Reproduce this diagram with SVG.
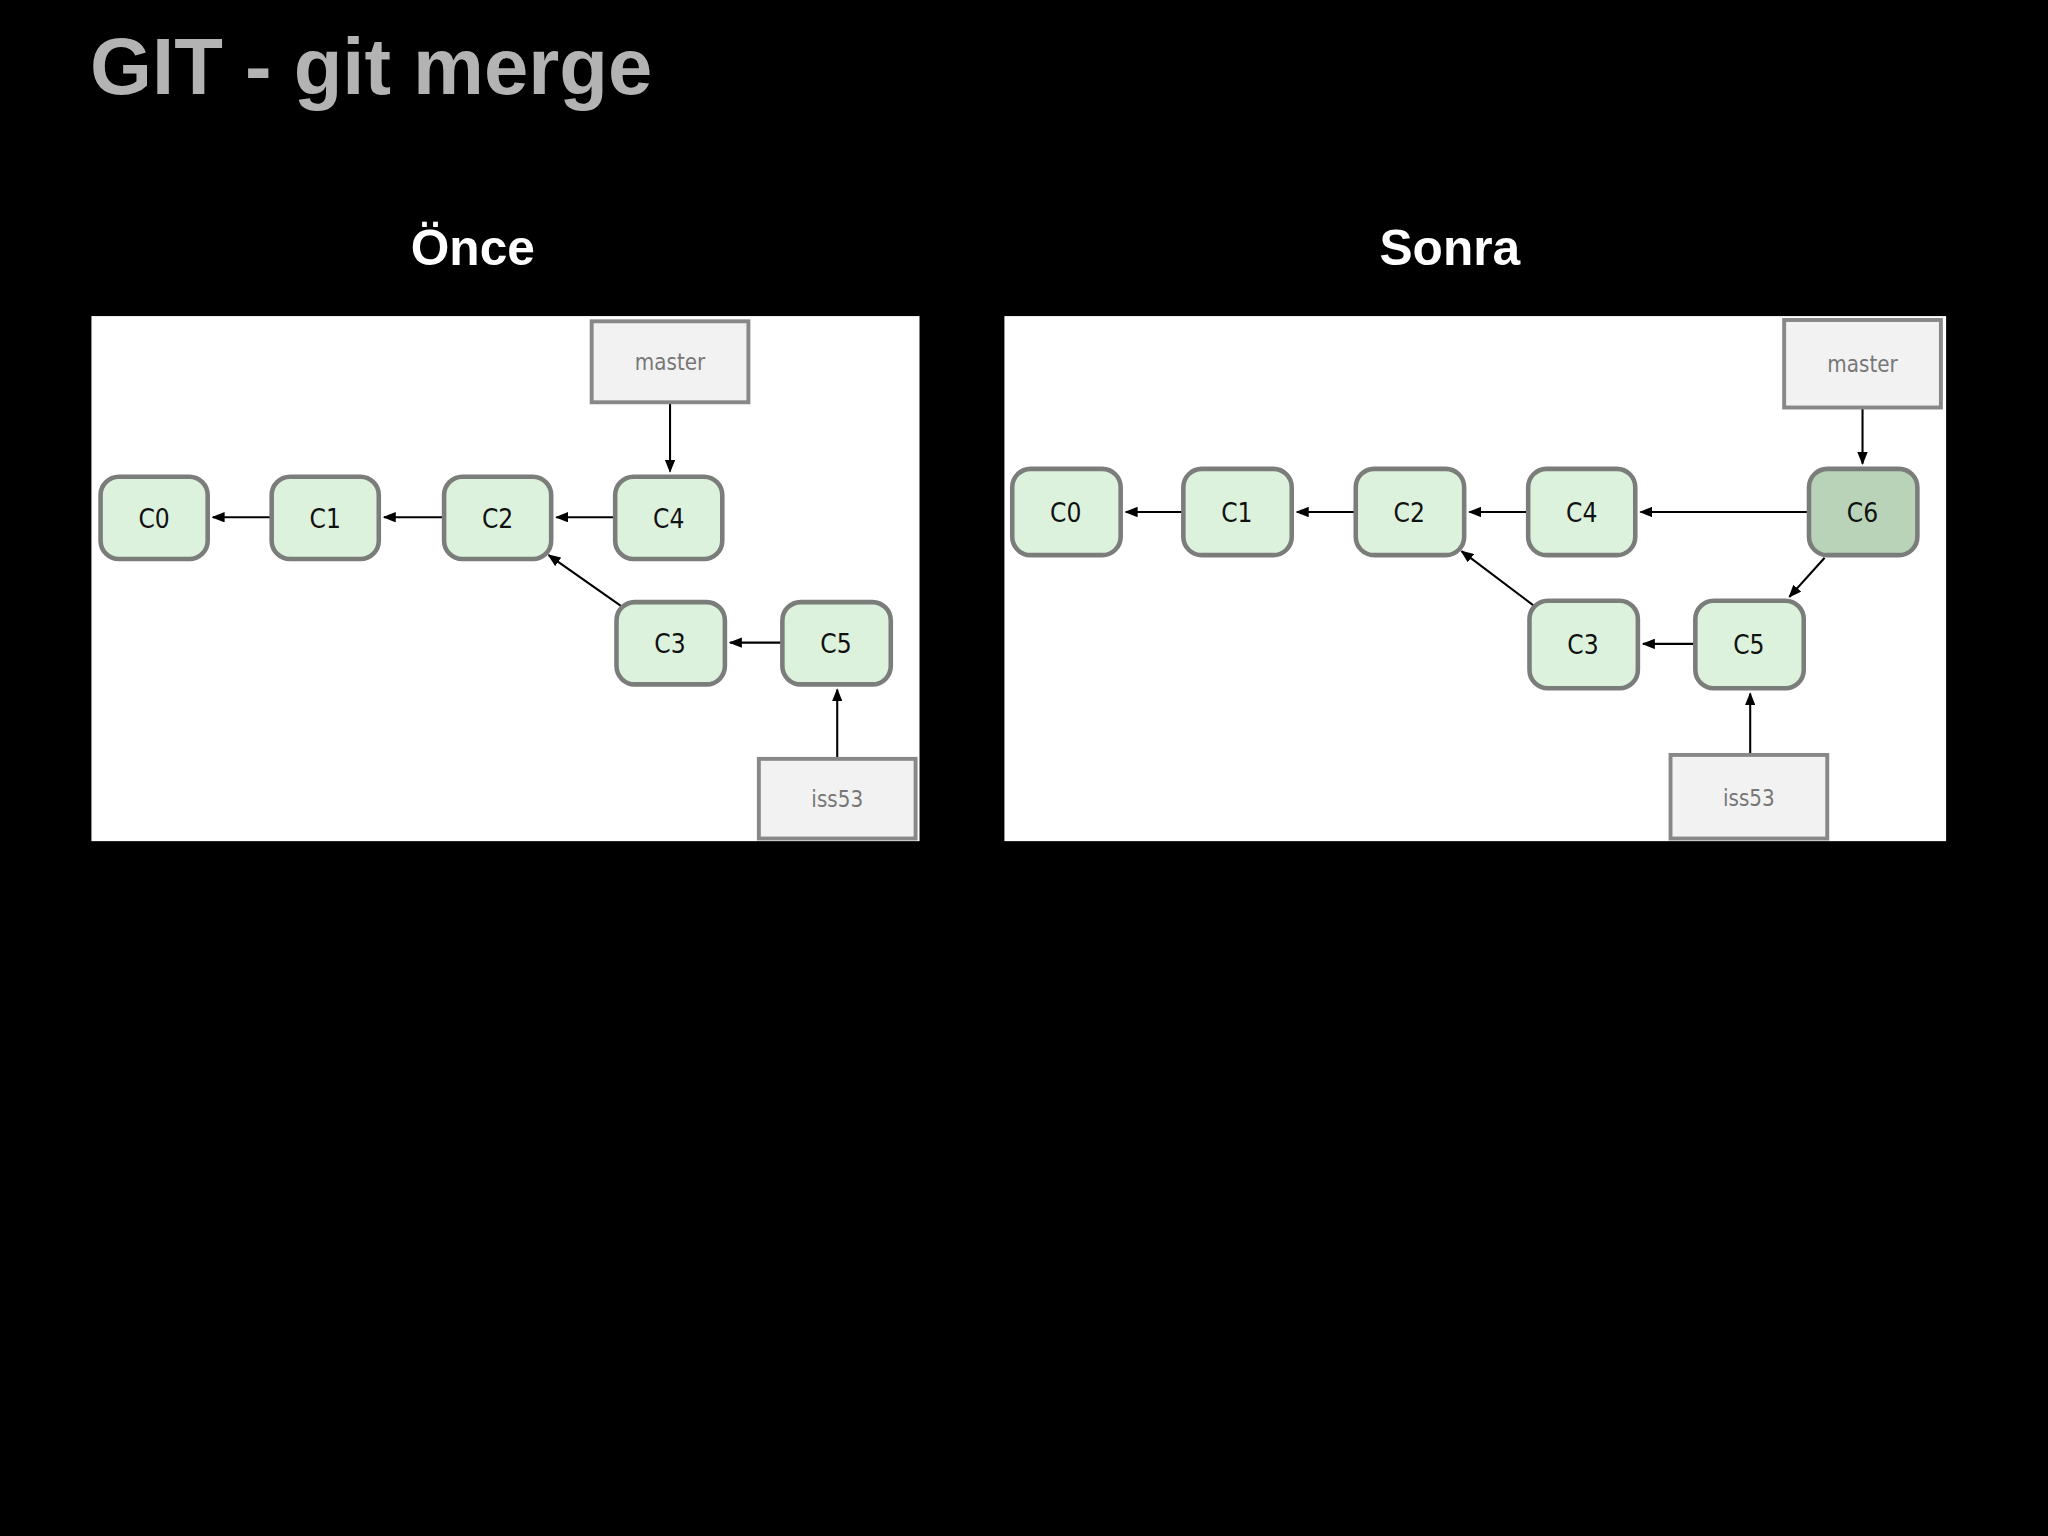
<svg xmlns="http://www.w3.org/2000/svg" width="2048" height="1536" viewBox="0 0 2048 1536">
<style>
.n rect{fill:#ddf2dd;stroke:#7a7d7a;stroke-width:3.5}
.n.d rect{fill:#b9d3b9}
.n text,.b text{font-family:"DejaVu Sans Condensed","DejaVu Sans",sans-serif;text-anchor:middle;font-size:20px}
.n text{fill:#111}
.b rect{fill:#f2f2f2;stroke:#888;stroke-width:3}
.b text{fill:#777;font-size:17px}
.c line{stroke:#000;stroke-width:1.6;marker-end:url(#a)}
.h{font-family:"Liberation Sans",Arial,sans-serif;font-weight:bold;fill:#fff;font-size:38px;text-anchor:middle}
</style>
<defs><marker id="a" markerWidth="10" markerHeight="8" refX="9" refY="4" orient="auto" markerUnits="userSpaceOnUse"><path d="M0,0L10,4L0,8z" fill="#000"/></marker></defs>
<rect width="2048" height="1536" fill="#000"/>
<g transform="scale(1.30612)">
<text x="69" y="72" style="font-family:'Liberation Sans',Arial,sans-serif;font-weight:bold;font-size:61px;fill:#b3b3b3">GIT - git merge</text>
<text class="h" x="362" y="203">Önce</text>
<text class="h" x="1110" y="203">Sonra</text>
<rect x="70" y="242" width="634" height="402" fill="#fff"/>
<rect x="769" y="242" width="721" height="402" fill="#fff"/>
<g class="c">
<line x1="207" y1="396" x2="163" y2="396"/>
<line x1="340" y1="396" x2="294" y2="396"/>
<line x1="471" y1="396" x2="426" y2="396"/>
<line x1="477" y1="465" x2="420" y2="425"/>
<line x1="599" y1="492" x2="559" y2="492"/>
<line x1="513" y1="308" x2="513" y2="361"/>
<line x1="641" y1="580" x2="641" y2="528"/>
<line x1="906" y1="392" x2="862" y2="392"/>
<line x1="1038" y1="392" x2="993" y2="392"/>
<line x1="1170" y1="392" x2="1125" y2="392"/>
<line x1="1385" y1="392" x2="1256" y2="392"/>
<line x1="1176" y1="465" x2="1119" y2="422"/>
<line x1="1298" y1="493" x2="1258" y2="493"/>
<line x1="1397" y1="427" x2="1370" y2="457"/>
<line x1="1426" y1="312" x2="1426" y2="355"/>
<line x1="1340" y1="578" x2="1340" y2="531"/>
</g>
<g id="L-master" class="b"><rect x="453" y="246" width="120" height="62"/><text x="513" y="283">master</text></g>
<g id="L-iss53" class="b"><rect x="581" y="581" width="120" height="61"/><text x="641" y="618">iss53</text></g>
<g id="L-C0" class="n"><rect x="77" y="365" width="82" height="63" rx="14"/><text x="118" y="404">C0</text></g>
<g id="L-C1" class="n"><rect x="208" y="365" width="82" height="63" rx="14"/><text x="249" y="404">C1</text></g>
<g id="L-C2" class="n"><rect x="340" y="365" width="82" height="63" rx="14"/><text x="381" y="404">C2</text></g>
<g id="L-C4" class="n"><rect x="471" y="365" width="82" height="63" rx="14"/><text x="512" y="404">C4</text></g>
<g id="L-C3" class="n"><rect x="472" y="461" width="83" height="63" rx="14"/><text x="513" y="500">C3</text></g>
<g id="L-C5" class="n"><rect x="599" y="461" width="83" height="63" rx="14"/><text x="640" y="500">C5</text></g>
<g id="R-master" class="b"><rect x="1366" y="245" width="120" height="67"/><text x="1426" y="285">master</text></g>
<g id="R-iss53" class="b"><rect x="1279" y="578" width="120" height="64"/><text x="1339" y="617">iss53</text></g>
<g id="R-C0" class="n"><rect x="775" y="359" width="83" height="66" rx="14"/><text x="816" y="400">C0</text></g>
<g id="R-C1" class="n"><rect x="906" y="359" width="83" height="66" rx="14"/><text x="947" y="400">C1</text></g>
<g id="R-C2" class="n"><rect x="1038" y="359" width="83" height="66" rx="14"/><text x="1079" y="400">C2</text></g>
<g id="R-C4" class="n"><rect x="1170" y="359" width="82" height="66" rx="14"/><text x="1211" y="400">C4</text></g>
<g id="R-C6" class="n d"><rect x="1385" y="359" width="83" height="66" rx="14"/><text x="1426" y="400">C6</text></g>
<g id="R-C3" class="n"><rect x="1171" y="460" width="83" height="67" rx="14"/><text x="1212" y="501">C3</text></g>
<g id="R-C5" class="n"><rect x="1298" y="460" width="83" height="67" rx="14"/><text x="1339" y="501">C5</text></g>
</g>
</svg>
